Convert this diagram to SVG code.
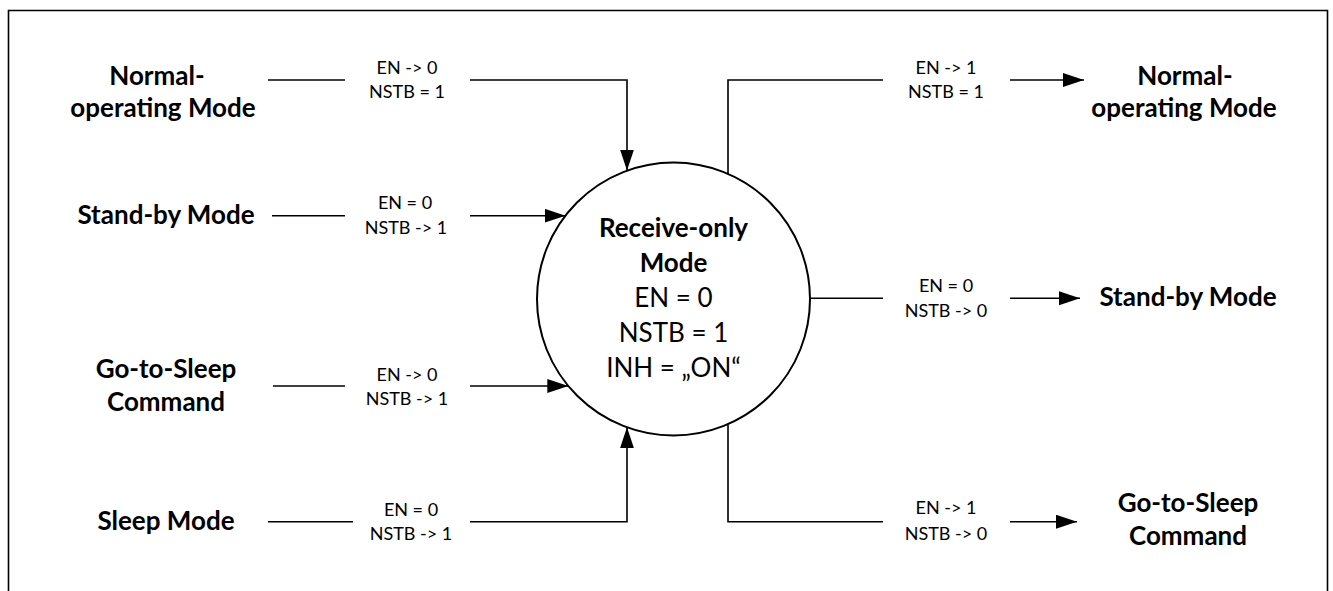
<svg xmlns="http://www.w3.org/2000/svg" width="1333" height="591" viewBox="0 0 1333 591">
<style>
.big{font-family:Lato,"Open Sans","Liberation Sans",sans-serif;font-weight:bold;font-size:26px;fill:#000;text-anchor:middle}
.mid{font-family:Lato,"Open Sans","Liberation Sans",sans-serif;font-size:26px;fill:#000;text-anchor:middle}
.small{font-family:Lato,"Open Sans","Liberation Sans",sans-serif;font-size:18px;fill:#000;text-anchor:middle}
.ln{fill:none;stroke:#000;stroke-width:1.6}
</style>
<defs>
<marker id="arr" markerUnits="userSpaceOnUse" markerWidth="22" markerHeight="16" refX="21" refY="7" orient="auto">
<path d="M0,0 L21,7 L0,14 Z" fill="#000"/>
</marker>
</defs>
<rect width="1333" height="591" fill="#fff"/>
<path d="M8.5 591 V10.5 H1327.5 V591" fill="none" stroke="#000" stroke-width="1.6"/>

<g id="center">
<circle cx="673.5" cy="299" r="136.5" fill="#fff" stroke="#000" stroke-width="2"/>
<text class="big" x="673.5" y="237">Receive-only</text>
<text class="big" x="673.5" y="272">Mode</text>
<text class="mid" x="673.5" y="307">EN = 0</text>
<text class="mid" x="673.5" y="342">NSTB = 1</text>
<text class="mid" x="673.5" y="377">INH = „ON“</text>
</g>

<g id="in-normal">
<text class="big" x="157" y="85">Normal-</text>
<text class="big" x="163" y="117">operating Mode</text>
</g>
<g id="in-standby">
<text class="big" x="166" y="224">Stand-by Mode</text>
</g>
<g id="in-gts">
<text class="big" x="166" y="378">Go-to-Sleep</text>
<text class="big" x="166" y="411">Command</text>
</g>
<g id="in-sleep">
<text class="big" x="166" y="530">Sleep Mode</text>
</g>
<g id="out-normal">
<text class="big" x="1185" y="85">Normal-</text>
<text class="big" x="1184" y="117">operating Mode</text>
</g>
<g id="out-standby">
<text class="big" x="1188" y="306">Stand-by Mode</text>
</g>
<g id="out-gts">
<text class="big" x="1188" y="512">Go-to-Sleep</text>
<text class="big" x="1188" y="545">Command</text>
</g>

<g id="connectors">
<path class="ln" d="M268 80 H345"/>
<path class="ln" d="M470 80 H627 V170.5" marker-end="url(#arr)"/>
<text class="small" x="407" y="74">EN -&gt; 0</text>
<text class="small" x="407" y="98">NSTB = 1</text>

<path class="ln" d="M272 215.7 H345"/>
<path class="ln" d="M470 215.7 H565.5" marker-end="url(#arr)"/>
<text class="small" x="405" y="209">EN = 0</text>
<text class="small" x="406" y="234">NSTB -&gt; 1</text>

<path class="ln" d="M273 386 H345"/>
<path class="ln" d="M470 386 H568.3" marker-end="url(#arr)"/>
<text class="small" x="407" y="381">EN -&gt; 0</text>
<text class="small" x="407" y="405">NSTB -&gt; 1</text>

<path class="ln" d="M268 521.7 H353"/>
<path class="ln" d="M470 521.7 H627 V427.3" marker-end="url(#arr)"/>
<text class="small" x="411" y="516">EN = 0</text>
<text class="small" x="411" y="540">NSTB -&gt; 1</text>

<path class="ln" d="M728 174 V80 H883"/>
<path class="ln" d="M1010 80 H1084" marker-end="url(#arr)"/>
<text class="small" x="946" y="74">EN -&gt; 1</text>
<text class="small" x="946" y="98">NSTB = 1</text>

<path class="ln" d="M810 298.3 H883"/>
<path class="ln" d="M1010 298.3 H1080" marker-end="url(#arr)"/>
<text class="small" x="946" y="292">EN = 0</text>
<text class="small" x="946" y="317">NSTB -&gt; 0</text>

<path class="ln" d="M728 424 V521.7 H883"/>
<path class="ln" d="M1010 521.7 H1077" marker-end="url(#arr)"/>
<text class="small" x="946" y="514">EN -&gt; 1</text>
<text class="small" x="946" y="540">NSTB -&gt; 0</text>
</g>
</svg>
